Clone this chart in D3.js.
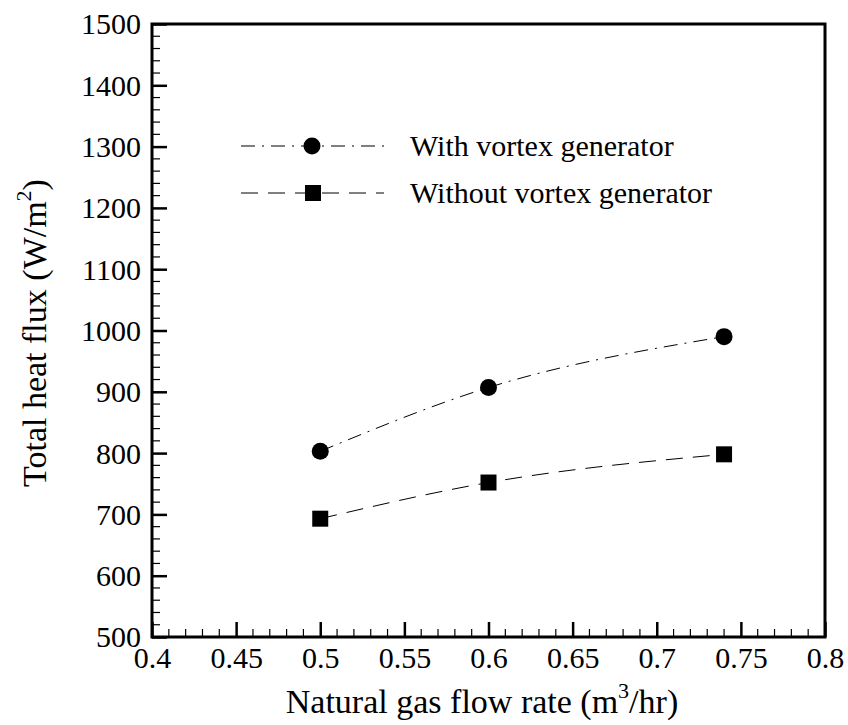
<!DOCTYPE html>
<html>
<head>
<meta charset="utf-8">
<script src="https://cdnjs.cloudflare.com/ajax/libs/d3/7.8.5/d3.min.js"></script>
<style>
  body { margin: 0; background: #fff; }
</style>
</head>
<body>
<div id="chart"></div>
<script>
// data
var flowRate = [0.5, 0.6, 0.74];
var withVG = [803, 907, 990];
var withoutVG = [693, 752, 798];
var seriesNames = ["With vortex generator", "Without vortex generator"];
var xTicks = [0.4, 0.45, 0.5, 0.55, 0.6, 0.65, 0.7, 0.75, 0.8];
var yTicks = [500, 600, 700, 800, 900, 1000, 1100, 1200, 1300, 1400, 1500];

var FONT = "Liberation Serif";

var svgWidth = 848;
var svgHeight = 725;

var margin = { top: 24, right: 23, bottom: 88, left: 152 };
var width = svgWidth - margin.left - margin.right;
var height = svgHeight - margin.top - margin.bottom;

var svg = d3.select("#chart")
    .append("svg")
    .attr("width", svgWidth)
    .attr("height", svgHeight)
    .style("font-family", FONT);

var chartGroup = svg.append("g")
    .attr("transform", `translate(${margin.left}, ${margin.top})`);

var xScale = d3.scaleLinear().domain([0.4, 0.8]).range([0, width]);
var yScale = d3.scaleLinear().domain([500, 1500]).range([height, 0]);

// minor ticks
var xMinor = d3.range(0.4, 0.8001, 0.01).filter(v => Math.abs(v * 20 - Math.round(v * 20)) > 1e-6);
var yMinor = d3.range(500, 1501, 20).filter(v => v % 100 !== 0);

chartGroup.selectAll(".xminor")
    .data(xMinor)
    .enter()
    .append("line")
    .attr("x1", d => xScale(d)).attr("x2", d => xScale(d))
    .attr("y1", height).attr("y2", height - 8)
    .attr("stroke", "#000").attr("stroke-width", 1.2);

chartGroup.selectAll(".yminor")
    .data(yMinor)
    .enter()
    .append("line")
    .attr("y1", d => yScale(d)).attr("y2", d => yScale(d))
    .attr("x1", 0).attr("x2", 8)
    .attr("stroke", "#000").attr("stroke-width", 1.2);

// major ticks and labels via axes
var bottomAxis = d3.axisBottom(xScale)
    .tickValues(xTicks)
    .tickSizeInner(-15)
    .tickSizeOuter(0)
    .tickPadding(14)
    .tickFormat(d => String(+d.toFixed(2)));

var leftAxis = d3.axisLeft(yScale)
    .tickValues(yTicks)
    .tickSizeInner(-15)
    .tickSizeOuter(0)
    .tickPadding(24)
    .tickFormat(d3.format("d"));

var xAxis = chartGroup.append("g")
    .attr("transform", `translate(0, ${height})`)
    .call(bottomAxis);

var yAxis = chartGroup.append("g")
    .call(leftAxis);

[xAxis, yAxis].forEach(function(ax) {
    ax.attr("font-family", FONT).attr("font-size", 30);
    ax.select(".domain").remove();
    ax.selectAll(".tick line").attr("stroke", "#000").attr("stroke-width", 2.5);
    ax.selectAll(".tick text")
        .style("font-family", FONT)
        .style("font-size", "30px")
        .attr("fill", "#000");
});
xAxis.selectAll(".tick text").attr("y", 8).attr("dy", "0.75em");
yAxis.selectAll(".tick text").attr("x", -11).attr("dy", "0.33em");

// frame
chartGroup.append("rect")
    .attr("x", 0).attr("y", 0)
    .attr("width", width).attr("height", height)
    .attr("fill", "none")
    .attr("stroke", "#000")
    .attr("stroke-width", 3);

// lines
var curveLine = d3.line()
    .x((d, i) => xScale(flowRate[i]))
    .y(d => yScale(d))
    .curve(d3.curveMonotoneX);

chartGroup.append("path")
    .datum(withVG)
    .attr("d", curveLine)
    .attr("fill", "none")
    .attr("stroke", "#000")
    .attr("stroke-width", 1)
    .attr("stroke-dasharray", "14,7,2,7");

chartGroup.append("path")
    .datum(withoutVG)
    .attr("d", curveLine)
    .attr("fill", "none")
    .attr("stroke", "#000")
    .attr("stroke-width", 1)
    .attr("stroke-dasharray", "17,10");

// markers
chartGroup.selectAll(".dotWith")
    .data(withVG)
    .enter()
    .append("circle")
    .attr("cx", (d, i) => xScale(flowRate[i]))
    .attr("cy", d => yScale(d))
    .attr("r", 8.5)
    .attr("fill", "#000");

chartGroup.selectAll(".sqWithout")
    .data(withoutVG)
    .enter()
    .append("rect")
    .attr("x", (d, i) => xScale(flowRate[i]) - 8)
    .attr("y", d => yScale(d) - 8)
    .attr("width", 16)
    .attr("height", 16)
    .attr("fill", "#000");

// legend
var legend = svg.append("g");
var legendRows = [
    { name: seriesNames[0], y: 146, dash: "14,7,2,7", marker: "circle" },
    { name: seriesNames[1], y: 193, dash: "17,10", marker: "square" }
];
legendRows.forEach(function(row) {
    legend.append("line")
        .attr("x1", 241).attr("x2", 384)
        .attr("y1", row.y).attr("y2", row.y)
        .attr("stroke", "#000")
        .attr("stroke-width", 1)
        .attr("stroke-dasharray", row.dash);
    if (row.marker === "circle") {
        legend.append("circle")
            .attr("cx", 312).attr("cy", row.y).attr("r", 8.5)
            .attr("fill", "#000");
    } else {
        legend.append("rect")
            .attr("x", 305).attr("y", row.y - 8)
            .attr("width", 16).attr("height", 16)
            .attr("fill", "#000");
    }
    legend.append("text")
        .attr("x", 410)
        .attr("y", row.y + 10)
        .style("font-family", FONT)
        .style("font-size", "30px")
        .text(row.name);
});

// axis titles
var xTitle = svg.append("text")
    .attr("x", 482)
    .attr("y", 713)
    .attr("text-anchor", "middle")
    .style("font-family", FONT)
    .style("font-size", "34px");
xTitle.append("tspan").text("Natural gas flow rate (m");
xTitle.append("tspan").attr("dy", -15).style("font-size", "22px").text("3");
xTitle.append("tspan").attr("dy", 15).text("/hr)");

var yTitle = svg.append("text")
    .attr("transform", "translate(46, 333) rotate(-90)")
    .attr("text-anchor", "middle")
    .style("font-family", FONT)
    .style("font-size", "34px");
yTitle.append("tspan").text("Total heat flux (W/m");
yTitle.append("tspan").attr("dy", -15).style("font-size", "22px").text("2");
yTitle.append("tspan").attr("dy", 15).text(")");
</script>
</body>
</html>
